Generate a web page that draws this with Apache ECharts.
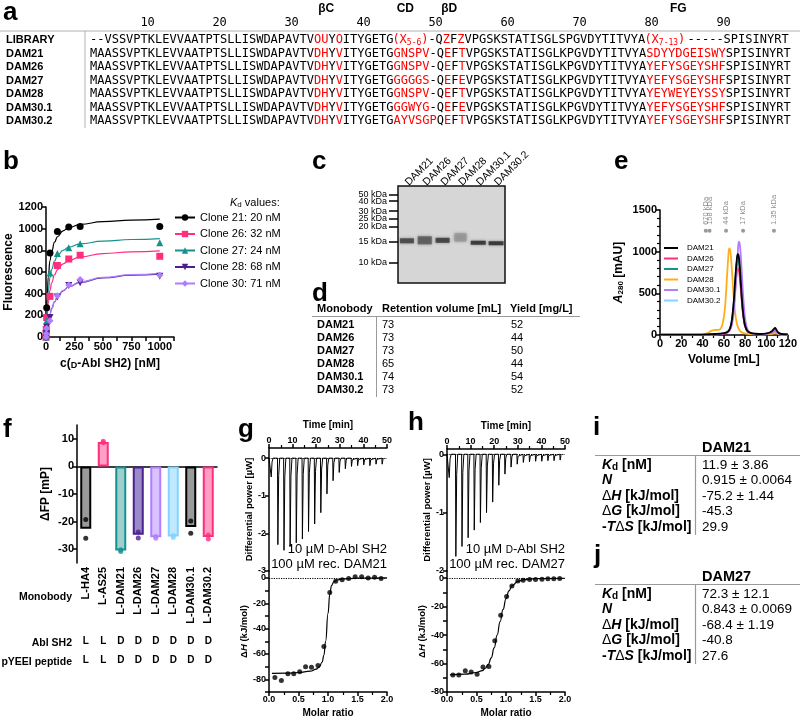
<!DOCTYPE html>
<html>
<head>
<meta charset="utf-8">
<script src="https://cdn.jsdelivr.net/npm/echarts@6/dist/echarts.min.js"></script>
<style>
html,body{margin:0;padding:0;background:#fff;}
#chart{width:800px;height:721px;}
</style>
</head>
<body>
<div id="chart"></div>
<script>
// ======================= DATA =======================
// (a) sequence alignment; lowercase letters = randomized (red) positions
const seqNames = ['LIBRARY','DAM21','DAM26','DAM27','DAM28','DAM30.1','DAM30.2'];
const libraryParts = [
  [0,  '--VSSVPTKLEVVAATPTSLLISWDAPAVTVouYoITYGETG'],
  [42, 'X|5-6'],
  [47, '-QzFzVPGSKSTATISGLSPGVDYTITVYA'],
  [77, 'X|7-13'],
  [83, '-----'],
  [88, 'SPISINYRT']
];
const cloneSeqs = [
  'MAASSVPTKLEVVAATPTSLLISWDAPAVTVdhYvITYGETGgnspv-QeFtVPGSKSTATISGLKPGVDYTITVYAsdyydgeiswySPISINYRT',
  'MAASSVPTKLEVVAATPTSLLISWDAPAVTVdhYvITYGETGgnspv-QeFtVPGSKSTATISGLKPGVDYTITVYAyefysgeyshfSPISINYRT',
  'MAASSVPTKLEVVAATPTSLLISWDAPAVTVdhYvITYGETGggggs-QeFeVPGSKSTATISGLKPGVDYTITVYAyefysgeyshfSPISINYRT',
  'MAASSVPTKLEVVAATPTSLLISWDAPAVTVdhYvITYGETGgnspv-QeFtVPGSKSTATISGLKPGVDYTITVYAyeyweyeyssySPISINYRT',
  'MAASSVPTKLEVVAATPTSLLISWDAPAVTVdhYvITYGETGggwyg-QeFeVPGSKSTATISGLKPGVDYTITVYAyefysgeyshfSPISINYRT',
  'MAASSVPTKLEVVAATPTSLLISWDAPAVTVdhYvITYGETGayvsgpQeFtVPGSKSTATISGLKPGVDYTITVYAyefysgeyshfSPISINYRT'
];
const seqNumbers = [10,20,30,40,50,60,70,80,90];
const strandLabels = ['βC','CD','βD','FG'];
const strandPos = [32.8, 43.8, 49.9, 81.7];   // residue column

// (b) fluorescence binding
const cloneIds = [21, 26, 27, 28, 30];
const cloneKd  = [20, 32, 24, 68, 71];
const bConc = [0, 2, 6, 35, 100, 200, 300, 1000];
const bClone21 = [0, 50, 270, 775, 975, 1015, 1020, 1020];
const bClone26 = [0, 70, 180, 375, 660, 720, 755, 745];
const bClone27 = [0, 60, 150, 590, 770, 825, 860, 870];
const bClone28 = [0, 30, 90, 180, 370, 475, 500, 560];
const bClone30 = [0, 30, 80, 150, 380, 480, 530, 570];
const fitConc = [0, 5, 10, 20, 35, 50, 75, 100, 150, 200, 300, 500, 750, 1000];
const fit21 = [0, 220, 370, 555, 705, 790, 875, 925, 980, 1010, 1040, 1065, 1078, 1088];
const fit26 = [0, 110, 195, 310, 430, 500, 575, 620, 675, 705, 740, 770, 785, 795];
const fit27 = [0, 160, 275, 420, 550, 625, 700, 750, 800, 830, 860, 885, 900, 908];
const fit28 = [0, 45, 80, 140, 210, 265, 325, 370, 425, 465, 505, 545, 570, 580];
const fit30 = [0, 40, 75, 140, 210, 260, 325, 370, 430, 465, 510, 550, 575, 588];

// (c) SDS-PAGE
const gelLanes = ['DAM21','DAM26','DAM27','DAM28','DAM30.1','DAM30.2'];
const markerKDa = [60, 50, 40, 30, 25, 20, 15, 10];
const markerRf  = [0.02, 0.09, 0.155, 0.26, 0.34, 0.42, 0.57, 0.79];
const bandRf    = [0.565, 0.56, 0.56, 0.53, 0.585, 0.59];

// (d) table
const dNames = ['DAM21','DAM26','DAM27','DAM28','DAM30.1','DAM30.2'];
const dRetention = [73, 73, 73, 65, 74, 73];
const dYield = [52, 44, 50, 44, 54, 52];

// (e) SEC chromatograms
const eVol = [0,20,40,45,48,52,56,59,61,63,64,65,66,67,68,69,70,71,72,73,74,75,76,77,78,79,80,82,85,90,95,100,103,105,107,108,109,111,114,120];
const eDAM21 = [5,5,5,8,10,12,15,20,25,35,45,60,90,140,230,360,540,730,890,970,940,800,600,420,270,170,110,50,25,15,12,20,30,45,75,85,70,30,12,8];
const eDAM26 = [0,0,2,3,5,8,10,15,20,28,35,50,75,115,190,300,450,610,740,800,780,680,530,380,250,160,100,45,20,10,8,10,15,25,40,45,38,15,5,2];
const eDAM27 = [3,3,3,5,8,10,12,18,24,33,42,58,88,135,220,345,520,700,860,920,890,760,570,400,260,165,105,48,22,12,10,15,22,35,55,62,50,22,8,5];
const eDAM28 = [2,2,5,25,50,60,65,150,330,720,920,1040,1010,870,680,490,330,220,150,100,70,50,38,30,25,20,18,14,10,8,6,8,10,14,20,22,18,10,5,3];
const eDAM301 = [2,2,3,5,6,8,12,16,22,30,38,50,70,100,160,250,390,580,790,980,1120,1080,920,700,480,310,190,70,25,12,10,12,18,28,45,50,40,18,6,3];
const eDAM302 = [4,4,4,6,8,10,14,20,26,36,46,62,92,140,225,350,520,700,850,900,870,740,560,395,255,160,100,45,22,12,10,14,20,30,50,58,46,20,7,4];
const eNames = ['DAM21','DAM26','DAM27','DAM28','DAM30.1','DAM30.2'];
const stdVol = [43, 46.5, 62, 78, 107];
const stdNames = ['670 kDa','158 kDa','44 kDa','17 kDa','1.35 kDa'];

// (f) fluorescence polarization
const fNames = ['L-HA4','L-AS25','L-DAM21','L-DAM26','L-DAM27','L-DAM28','L-DAM30.1','L-DAM30.2'];
const fMean = [-22.6, 8.8, -30.5, -24.8, -25.7, -25.4, -22.0, -25.6];
const fRep1 = [-19.2, 9.1, -30.2, -23.8, -25.4, -25.0, -19.8, -24.9];
const fRep2 = [-26.0, 8.6, -30.8, -25.9, -26.0, -25.8, -24.2, -26.3];
const ablSH2 = ['L','L','D','D','D','D','D','D'];
const pYEEI  = ['L','L','D','D','D','D','D','D'];

// (g,h) ITC
const injTime = [0.8, 3.6, 6.2, 8.8, 11.4, 14.0, 16.6, 19.2, 21.8, 24.4, 27.0, 29.6, 32.2, 34.8, 37.4, 40.0, 42.6, 45.2, 47.8];
const gPower = [-0.5, -2.3, -2.45, -2.35, -2.25, -2.15, -1.95, -1.75, -1.45, -0.95, -0.6, -0.38, -0.28, -0.22, -0.2, -0.18, -0.2, -0.16, -0.16];
const hPower = [-0.4, -1.75, -1.58, -1.43, -1.3, -1.17, -1.0, -0.82, -0.53, -0.34, -0.22, -0.17, -0.14, -0.13, -0.12, -0.12, -0.11, -0.11, -0.1];
const gRatio = [0.10,0.21,0.32,0.42,0.52,0.62,0.72,0.83,0.93,1.03,1.13,1.24,1.35,1.46,1.57,1.68,1.79,1.90];
const gDH    = [-78.5,-81,-75.5,-75.5,-74,-70,-70.5,-69,-54,-11.5,-2.5,-1.5,-0.5,1,1,0,0.5,-0.5];
const hRatio = [0.10,0.20,0.31,0.41,0.51,0.61,0.71,0.81,0.91,1.01,1.10,1.20,1.29,1.40,1.50,1.61,1.71,1.81,1.91];
const hDH    = [-68,-68,-65,-66,-67.5,-62.5,-62,-44,-26,-13,-5.5,-2,-1.5,-1,-1,-0.8,-0.5,-0.5,-0.3];
const gFitX = [0.05,0.3,0.5,0.7,0.8,0.85,0.9,0.93,0.96,1.0,1.03,1.06,1.1,1.15,1.25,1.5,2.0];
const gFitY = [-75.3,-75.1,-74.6,-73.6,-72,-70.3,-66.5,-61,-50,-28,-13,-6,-3,-1.6,-0.7,-0.2,0];
const hFitX = [0.05,0.3,0.5,0.6,0.65,0.7,0.75,0.8,0.85,0.9,0.95,1.0,1.05,1.1,1.2,1.3,1.5,2.0];
const hFitY = [-68,-67.5,-66.3,-65,-63.3,-60.5,-56,-49,-40,-30.5,-22,-14.5,-9,-5.5,-2.3,-1.1,-0.4,-0.1];

// (i,j) ITC parameters
const itcParamLabels = ['{bi|K}{bs|d}{b| [nM]}','{bi|N}','{n|Δ}{bi|H}{b| [kJ/mol]}','{n|Δ}{bi|G}{b| [kJ/mol]}','{b|-}{bi|T}{n|Δ}{bi|S}{b| [kJ/mol]}'];
const iValues = ['11.9 ± 3.86','0.915 ± 0.0064','-75.2 ± 1.44','-45.3','29.9'];
const jValues = ['72.3 ± 12.1','0.843 ± 0.0069','-68.4 ± 1.19','-40.8','27.6'];

// ======================= STYLE / BUILD =======================
const FONT = '"Liberation Sans", Arial, Helvetica, sans-serif';
const MONO = '"DejaVu Sans Mono", "Liberation Mono", monospace';
const COL = {black:'#000000', pink:'#ff2e7e', teal:'#17918d', dpurple:'#4b1f8e', lpurple:'#b07dff', orange:'#ffae1a', lblue:'#80d4ff', grey:'#999999'};

const grids = [], xAxes = [], yAxes = [], series = [], legends = [], G = [];
function merge(a, b) {
  for (const k in b) {
    const v = b[k];
    if (v && typeof v === 'object' && !Array.isArray(v) && a[k] && typeof a[k] === 'object' && !Array.isArray(a[k])) merge(a[k], v);
    else a[k] = v;
  }
  return a;
}
function ax(gi, o, fs) {
  fs = fs || 11;
  return merge({
    gridIndex: gi, type: 'value', splitLine: {show: false},
    axisLine: {show: true, onZero: false, lineStyle: {color: '#000', width: 1.5}},
    axisTick: {show: true, length: 4, lineStyle: {color: '#000', width: 1.5}},
    minorTick: {show: false},
    axisLabel: {color: '#000', fontFamily: FONT, fontWeight: 'bold', fontSize: fs, margin: 3, formatter: v => String(v)},
    nameLocation: 'middle',
    nameTextStyle: {color: '#000', fontFamily: FONT, fontWeight: 'bold', fontSize: fs + 1}
  }, o || {});
}
const addGrid = g => (grids.push(g), grids.length - 1);
const addX = a => (xAxes.push(a), xAxes.length - 1);
const addY = a => (yAxes.push(a), yAxes.length - 1);

function T(x, y, text, o) {
  o = o || {};
  const st = {text: text, fill: o.color || '#000', fontFamily: o.ff || FONT, fontSize: o.fs || 12,
    fontWeight: o.fw || 'normal', fontStyle: o.fst || 'normal',
    align: o.align || 'left', verticalAlign: o.va || 'middle',
    textAlign: o.align || 'left', textVerticalAlign: o.va || 'middle'};
  if (o.rich) st.rich = o.rich;
  return {type: 'text', x: x, y: y, rotation: o.rot || 0, silent: true, z: 100, style: st};
}
function L(x1, y1, x2, y2, color, w) {
  return {type: 'line', silent: true, z: 99, shape: {x1, y1, x2, y2}, style: {stroke: color || '#999', lineWidth: w || 1}};
}
const richStd = (fs) => ({
  n: {fontFamily: FONT, fontSize: fs, verticalAlign: 'bottom'},
  b: {fontFamily: FONT, fontSize: fs, fontWeight: 'bold', verticalAlign: 'bottom'},
  i: {fontFamily: FONT, fontSize: fs, fontStyle: 'italic', verticalAlign: 'bottom'},
  bi: {fontFamily: FONT, fontSize: fs, fontWeight: 'bold', fontStyle: 'italic', verticalAlign: 'bottom'},
  bs: {fontFamily: FONT, fontSize: Math.round(fs * 0.7), fontWeight: 'bold', verticalAlign: 'bottom'},
  s: {fontFamily: FONT, fontSize: Math.round(fs * 0.7), verticalAlign: 'bottom'},
  sc: {fontFamily: FONT, fontSize: Math.round(fs * 0.75), verticalAlign: 'bottom'}
});

// ---------- panel letters ----------
[['a',3,13],['b',3,162],['c',312,162],['d',312,294],['e',614,162],['f',3,430],['g',238,430],['h',408,423],['i',593,428],['j',594,556]]
  .forEach(p => G.push(T(p[1], p[2], p[0], {fs: 26, fw: 'bold'})));

// ---------- (a) alignment ----------
const X0 = 90, CW = 7.2, FS_SEQ = 12;
const rowY = [40, 53.5, 67, 80.5, 94, 107.5, 121];
const seqRichStyle = {
  k: {fill: '#000', fontFamily: MONO, fontSize: FS_SEQ, verticalAlign: 'top', textVerticalAlign: 'top'},
  r: {fill: '#ff0000', fontFamily: MONO, fontSize: FS_SEQ, verticalAlign: 'top', textVerticalAlign: 'top'},
  s: {fill: '#ff0000', fontFamily: MONO, fontSize: 8, verticalAlign: 'top', textVerticalAlign: 'top', padding: [5, 0, 0, 0]}
};
function seqRich(s) {
  let out = '', cur = null, buf = '';
  for (const ch of s) {
    const red = ch >= 'a' && ch <= 'z';
    const st = red ? 'r' : 'k';
    if (st !== cur && buf) { out += '{' + cur + '|' + buf + '}'; buf = ''; }
    cur = st; buf += red ? ch.toUpperCase() : ch;
  }
  if (buf) out += '{' + cur + '|' + buf + '}';
  return out;
}
strandLabels.forEach((s, i) => G.push(T(X0 + CW * strandPos[i], 8.5, s, {fs: 12, fw: 'bold', align: 'center'})));
seqNumbers.forEach(n => G.push(T(X0 + CW * (n - 2), 23, String(n), {ff: MONO, fs: 12, align: 'center'})));
G.push(L(0, 31, 800, 31, '#b0b0b0', 1));
G.push(L(85, 31, 85, 128, '#b0b0b0', 1));
seqNames.forEach((nm, r) => G.push(T(6, rowY[r], nm, {fs: 11, fw: 'bold'})));
libraryParts.forEach(p => {
  let txt;
  if (p[1].indexOf('|') > 0) { const sub = p[1].split('|')[1]; txt = '{r|(X}{s|' + sub + '}{r|)}'; }
  else txt = seqRich(p[1]);
  G.push(T(X0 + CW * p[0], rowY[0], txt, {ff: MONO, fs: FS_SEQ, rich: seqRichStyle}));
});
cloneSeqs.forEach((s, r) => G.push(T(X0, rowY[r + 1], seqRich(s), {ff: MONO, fs: FS_SEQ, rich: seqRichStyle})));

// ---------- (b) binding curves ----------
const gb = addGrid({left: 46, top: 207, width: 128, height: 130});
const xb = addX(ax(gb, {min: 0, max: 1125, interval: 125,
  axisLabel: {formatter: v => (v % 250 === 0 && v <= 1000) ? String(v) : '', margin: 4},
  name: '{n|c(}{sc|D}{n|-Abl SH2) [nM]}', nameGap: 21,
  nameTextStyle: {rich: {n: {fontFamily: FONT, fontWeight: 'bold', fontSize: 12, verticalAlign: 'bottom'}, sc: {fontFamily: FONT, fontWeight: 'bold', fontSize: 9, verticalAlign: 'bottom'}}}}));
const yb = addY(ax(gb, {min: 0, max: 1200, interval: 200, name: 'Fluorescence', nameGap: 31}));
const bVals = [bClone21, bClone26, bClone27, bClone28, bClone30];
const bFits = [fit21, fit26, fit27, fit28, fit30];
const bColors = [COL.black, COL.pink, COL.teal, COL.dpurple, COL.lpurple];
const bSymbols = ['circle', 'rect', 'triangle', 'path://M0,0L10,0L5,9Z', 'diamond'];
const bNames = cloneIds.map((id, k) => 'Clone ' + id + ': ' + cloneKd[k] + ' nM');
bNames.forEach((nm, k) => {
  series.push({type: 'line', name: nm, xAxisIndex: xb, yAxisIndex: yb, data: fitConc.map((c, i) => [c, bFits[k][i]]),
    smooth: true, smoothMonotone: 'x', showSymbol: false, symbol: bSymbols[k], symbolSize: 8,
    lineStyle: {color: bColors[k], width: 1.2}, itemStyle: {color: bColors[k]}, z: 2});
  series.push({type: 'scatter', name: nm, xAxisIndex: xb, yAxisIndex: yb, data: bConc.map((c, i) => [c, bVals[k][i]]),
    symbol: bSymbols[k], symbolSize: 7, itemStyle: {color: bColors[k], opacity: 1}, z: 3, clip: false});
});
legends.push({data: bNames, left: 174, top: 212, orient: 'vertical', itemWidth: 20, itemHeight: 8, itemGap: 5.5, padding: 0,
  selectedMode: false, textStyle: {fontFamily: FONT, fontSize: 11, color: '#000'}});
G.push(T(230, 203, '{i|K}{s|d}{n| values:}', {fs: 11, rich: richStd(11)}));

// ---------- (c) gel ----------
const gc = addGrid({left: 398, top: 186, width: 107, height: 97, show: true, backgroundColor: '#d6d6d6', borderColor: '#111', borderWidth: 1.5});
const xc = addX({gridIndex: gc, type: 'category', data: gelLanes, position: 'top', axisLine: {show: false}, axisTick: {show: false},
  axisLabel: {rotate: 45, fontSize: 10.5, color: '#000', fontFamily: FONT, margin: 2, interval: 0}});
const yc = addY({gridIndex: gc, type: 'value', min: 0, max: 1, inverse: true, axisLine: {show: false}, splitLine: {show: false},
  axisTick: {show: true, length: 9, customValues: markerRf, lineStyle: {color: '#000', width: 1.5}},
  axisLabel: {customValues: markerRf, formatter: v => markerKDa[markerRf.indexOf(v)] + ' kDa', fontSize: 9, color: '#000', fontFamily: FONT, margin: 11}});
const bandSize = [[14, 5], [14, 8], [14, 5], [12, 8], [15, 4], [15, 4]];
const bandColor = ['#3c3c3c', '#555555', '#333333', '#9a9a9a', '#262626', '#262626'];
series.push({type: 'scatter', name: 'gel', xAxisIndex: xc, yAxisIndex: yc, symbol: 'rect', silent: true,
  data: bandRf.map((r, i) => ({value: [i, r], symbolSize: bandSize[i], itemStyle: {color: bandColor[i]}})),
  itemStyle: {shadowBlur: 3, shadowColor: 'rgba(40,40,40,0.6)'}});

// ---------- (d) table ----------
G.push(T(317, 309, 'Monobody', {fs: 11, fw: 'bold'}));
G.push(T(382, 309, 'Retention volume [mL]', {fs: 11, fw: 'bold'}));
G.push(T(510, 309, 'Yield [mg/L]', {fs: 11, fw: 'bold'}));
G.push(L(312, 316.5, 580, 316.5, '#9a9a9a', 1));
G.push(L(376.5, 317, 376.5, 397, '#9a9a9a', 1));
dNames.forEach((nm, i) => {
  const y = 325 + i * 13;
  G.push(T(317, y, nm, {fs: 11, fw: 'bold'}));
  G.push(T(382, y, String(dRetention[i]), {fs: 11}));
  G.push(T(511, y, String(dYield[i]), {fs: 11}));
});

// ---------- (e) SEC ----------
const ge = addGrid({left: 660, top: 210, width: 129, height: 125});
const xe = addX(ax(ge, {min: 0, max: 120, interval: 20, minorTick: {show: true, splitNumber: 2, length: 3, lineStyle: {color: '#000', width: 1.2}},
  name: 'Volume [mL]', nameGap: 19}));
const ye = addY(ax(ge, {min: 0, max: 1500, interval: 500, minorTick: {show: true, splitNumber: 5, length: 3, lineStyle: {color: '#000', width: 1.2}},
  name: '{i|A}{s|280}{n| [mAU]}', nameGap: 35,
  nameTextStyle: {rich: {i: {fontFamily: FONT, fontWeight: 'bold', fontStyle: 'italic', fontSize: 12, verticalAlign: 'bottom'}, s: {fontFamily: FONT, fontWeight: 'bold', fontSize: 8, verticalAlign: 'bottom'}, n: {fontFamily: FONT, fontWeight: 'bold', fontSize: 12, verticalAlign: 'bottom'}}}}));
const eData = {'DAM21': eDAM21, 'DAM26': eDAM26, 'DAM27': eDAM27, 'DAM28': eDAM28, 'DAM30.1': eDAM301, 'DAM30.2': eDAM302};
const eColor = {'DAM21': COL.black, 'DAM26': COL.pink, 'DAM27': COL.teal, 'DAM28': COL.orange, 'DAM30.1': COL.lpurple, 'DAM30.2': COL.lblue};
['DAM30.2', 'DAM27', 'DAM26', 'DAM28', 'DAM30.1', 'DAM21'].forEach((nm, k) => {
  series.push({type: 'line', name: nm, xAxisIndex: xe, yAxisIndex: ye, data: eVol.map((v, i) => [v, eData[nm][i]]),
    smooth: 0.4, showSymbol: false, symbol: 'none', lineStyle: {color: eColor[nm], width: 1.8}, itemStyle: {color: eColor[nm]}, z: 2 + k});
});
series.push({type: 'scatter', name: 'standards', xAxisIndex: xe, yAxisIndex: ye, data: stdVol.map(v => [v, 1250]), symbolSize: 4,
  itemStyle: {color: '#808080'}, clip: false, silent: true, z: 10,
  label: {show: true, formatter: p => stdNames[p.dataIndex], rotate: 90, position: 'top', distance: 4, align: 'left', verticalAlign: 'middle',
    fontSize: 7.5, color: '#707070', fontFamily: FONT}});
legends.push({data: eNames, left: 664, top: 244, orient: 'vertical', itemWidth: 14, itemHeight: 2, itemGap: 2.5, padding: 0, icon: 'rect',
  selectedMode: false, textStyle: {fontFamily: FONT, fontSize: 8, color: '#000', padding: [0, 0, 0, 4]}});

// ---------- (f) FP bars ----------
const gf = addGrid({left: 77, top: 425, width: 140, height: 138});
const xf0 = addX(ax(gf, {type: 'category', data: fNames, axisLine: {onZero: true}, axisTick: {show: false}, axisLabel: {show: false}}));
const xf1 = addX(ax(gf, {type: 'category', data: fNames, position: 'bottom', axisLine: {show: false}, axisTick: {show: false},
  axisLabel: {rotate: 90, fontSize: 11, margin: 4, interval: 0, formatter: v => v}}));
const xf2 = addX(ax(gf, {type: 'category', data: fNames, position: 'bottom', offset: 73, axisLine: {show: false}, axisTick: {show: false},
  axisLabel: {fontSize: 10, margin: 0, interval: 0, formatter: (v, i) => ablSH2[i]}}));
const xf3 = addX(ax(gf, {type: 'category', data: fNames, position: 'bottom', offset: 92, axisLine: {show: false}, axisTick: {show: false},
  axisLabel: {fontSize: 10, margin: 0, interval: 0, formatter: (v, i) => pYEEI[i]}}));
const yf = addY(ax(gf, {min: -35, max: 15, axisTick: {customValues: [-30, -20, -10, 0, 10]}, axisLabel: {customValues: [-30, -20, -10, 0, 10]},
  name: 'ΔFP [mP]', nameGap: 25}));
const fFill = ['#9a9a9a', '#ff9fc6', '#9fcfcd', '#9a8bc8', '#d9c2ff', '#c0e9ff', '#9a9a9a', '#ff9fc6'];
const fBorder = ['#000000', COL.pink, COL.teal, COL.dpurple, COL.lpurple, COL.lblue, '#000000', COL.pink];
series.push({type: 'bar', name: 'dFP', xAxisIndex: xf0, yAxisIndex: yf, barWidth: 11,
  data: fMean.map((v, i) => ({value: v, itemStyle: {color: fFill[i], borderColor: fBorder[i], borderWidth: 2}}))});
series.push({type: 'scatter', name: 'dFP rep', xAxisIndex: xf0, yAxisIndex: yf, symbolSize: 5, z: 5,
  data: fRep1.map((v, i) => ({value: [i, v], itemStyle: {color: fBorder[i]}})).concat(fRep2.map((v, i) => ({value: [i, v], itemStyle: {color: fBorder[i]}})))});
G.push(T(72, 597, 'Monobody', {fs: 10.5, fw: 'bold', align: 'right'}));
G.push(T(72, 643, 'Abl SH2', {fs: 10.5, fw: 'bold', align: 'right'}));
G.push(T(72, 662, 'pYEEI peptide', {fs: 10.5, fw: 'bold', align: 'right'}));

// ---------- (g,h) ITC ----------
function itcTrace(times, depths) {
  const pts = [[0, 0]];
  times.forEach((t, i) => { pts.push([t, 0], [t + 0.15, depths[i]], [t + 0.5, depths[i] * 0.2], [t + 0.95, 0]); });
  pts.push([49, 0]);
  return pts;
}
const dotted0 = {silent: true, symbol: 'none', label: {show: false}, data: [{yAxis: 0}], lineStyle: {type: 'dotted', color: '#000', width: 1.2}};
function makeITC(left, topMax, topMin, topTop, botMin, botMax, power, ratio, dh, fitX, fitY, t2, textY) {
  const gu = addGrid({left: left, top: topTop, width: 118, height: 571 - topTop});
  const gl = addGrid({left: left, top: 571, width: 118, height: 121});
  const topTicks = []; for (let v = 0; v >= topMin; v--) topTicks.push(v);
  const xu = addX(ax(gu, {min: 0, max: 50, interval: 10, position: 'top', minorTick: {show: true, splitNumber: 2, length: 3, lineStyle: {color: '#000', width: 1.2}},
    name: 'Time [min]', nameGap: 18}, 9));
  const yu = addY(ax(gu, {min: topMin, max: topMax, axisTick: {customValues: topTicks}, axisLabel: {customValues: topTicks},
    name: 'Differential power [µW]', nameGap: 13, nameTextStyle: {fontSize: 9.5}}, 9));
  const botTicks = []; for (let v = 0; v >= botMin; v -= 20) botTicks.push(v);
  const botMinor = []; for (let v = 0; v >= botMin; v -= 10) botMinor.push(v);
  const xl = addX(ax(gl, {min: 0, max: 2, interval: 0.5, minorTick: {show: true, splitNumber: 2, length: 3, lineStyle: {color: '#000', width: 1.2}},
    axisLabel: {formatter: v => v.toFixed(1)}, name: 'Molar ratio', nameGap: 16}, 9));
  const yl = addY(ax(gl, {min: botMin, max: botMax, axisTick: {customValues: botMinor}, axisLabel: {customValues: botTicks},
    name: '{n|Δ}{i|H}{n| (kJ/mol)}', nameGap: 17,
    nameTextStyle: {rich: {n: {fontFamily: FONT, fontWeight: 'bold', fontSize: 9.5, verticalAlign: 'bottom'}, i: {fontFamily: FONT, fontWeight: 'bold', fontStyle: 'italic', fontSize: 9.5, verticalAlign: 'bottom'}}}}, 9));
  series.push({type: 'line', name: 'raw', xAxisIndex: xu, yAxisIndex: yu, data: itcTrace(injTime, power), showSymbol: false, symbol: 'none',
    lineStyle: {color: '#000', width: 1}, markLine: dotted0});
  series.push({type: 'line', name: 'fit', xAxisIndex: xl, yAxisIndex: yl, data: fitX.map((x, i) => [x, fitY[i]]), smooth: true, smoothMonotone: 'x',
    showSymbol: false, symbol: 'none', lineStyle: {color: '#000', width: 1.2}, markLine: dotted0});
  series.push({type: 'scatter', name: 'dH', xAxisIndex: xl, yAxisIndex: yl, data: ratio.map((x, i) => [x, dh[i]]), symbolSize: 5,
    itemStyle: {color: '#000'}, z: 5});
  const sc = {n: {fontFamily: FONT, fontSize: 13, verticalAlign: 'bottom'}, sc: {fontFamily: FONT, fontSize: 10, verticalAlign: 'bottom'}};
  G.push(T(left + 118, textY, '{n|10 µM }{sc|D}{n|-Abl SH2}', {fs: 13, align: 'right', rich: sc}));
  G.push(T(left + 118, textY + 15, '{n|' + t2 + '}', {fs: 13, align: 'right', rich: sc}));
}
makeITC(269, 0.27, -3, 448, -90, 5.5, gPower, gRatio, gDH, gFitX, gFitY, '100 µM rec. DAM21', 549);
makeITC(447, 0.09, -2, 449, -80, 5, hPower, hRatio, hDH, hFitX, hFitY, '100 µM rec. DAM27', 549);

// ---------- (i,j) tables ----------
function paramTable(top, title, values) {
  G.push(T(702, top, title, {fs: 14.5, fw: 'bold'}));
  G.push(L(595, top + 7.5, 800, top + 7.5, '#9a9a9a', 1.2));
  G.push(L(695.5, top + 8, 695.5, top + 87, '#9a9a9a', 1.2));
  itcParamLabels.forEach((lab, k) => {
    const y = top + 17 + k * 15.5;
    G.push(T(602, y, lab, {fs: 14, rich: richStd(14)}));
    G.push(T(702, y, values[k], {fs: 13.5}));
  });
}
paramTable(448, 'DAM21', iValues);
paramTable(577, 'DAM27', jValues);

// ======================= RENDER =======================
const chart = echarts.init(document.getElementById('chart'), null, {renderer: 'canvas'});
chart.setOption({
  animation: false, backgroundColor: '#fff', textStyle: {fontFamily: FONT},
  grid: grids, xAxis: xAxes, yAxis: yAxes, legend: legends, series: series,
  graphic: {elements: G}
});
</script>
</body>
</html>
